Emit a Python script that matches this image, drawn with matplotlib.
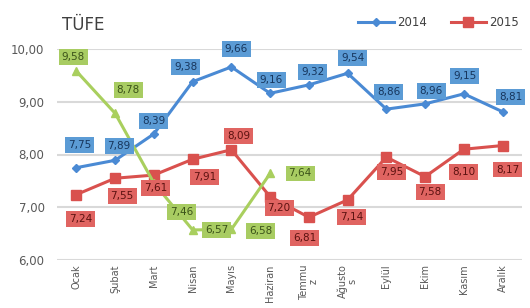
import matplotlib
matplotlib.use("Agg")
import matplotlib.pyplot as plt
from matplotlib.ticker import FuncFormatter

months = ["Ocak", "Şubat", "Mart", "Nisan", "Mayıs", "Haziran",
          "Temmu\nz", "Ağusto\ns", "Eylül", "Ekim", "Kasım", "Aralık"]
tufe_2014 = [7.75, 7.89, 8.39, 9.38, 9.66, 9.16, 9.32, 9.54, 8.86, 8.96, 9.15, 8.81]
tufe_2015 = [7.24, 7.55, 7.61, 7.91, 8.09, 7.20, 6.81, 7.14, 7.95, 7.58, 8.10, 8.17]
tufe_2016 = [9.58, 8.78, 7.46, 6.57, 6.58, 7.64]

# label offsets in pixels (dx, dy downward)
off_2014 = [(3, -23), (4, -14), (0, -13), (-7, -15), (5, -18), (1, -13),
            (4, -13), (5, -15), (2, -17), (6, -13), (1, -18), (8, -15)]
off_2015 = [(4, 24), (7, 18), (2, 13), (12, 18), (7, -14), (9, 11),
            (-4, 21), (4, 17), (5, 15), (5, 15), (0, 23), (5, 24)]
off_2016 = [(-3, -14), (13, -23), (28, 29), (24, 0), (29, 2), (30, 0)]

blue_line, blue_box, blue_txt = "#4a8ad4", "#5b9bd5", "#17365d"
red_line, red_box, red_txt = "#d9514e", "#e06461", "#5c1210"
green_line, green_box, green_txt = "#a9cf5e", "#a8cc62", "#3b5219"

fig = plt.figure(figsize=(5.30, 3.08), dpi=100)
ax = fig.add_axes([57/530, 1-260/308, 465/530, 211/308])

x = list(range(len(months)))
ax.plot(x, tufe_2014, color=blue_line, lw=2.2, marker="D", ms=4.5, label="2014", zorder=3)
ax.plot(x, tufe_2015, color=red_line, lw=2.2, marker="s", ms=6.5, label="2015", zorder=3)
ax.plot(x[:len(tufe_2016)], tufe_2016, color=green_line, lw=2.2, marker="^", ms=5.5, zorder=3)

def labels(vals, offs, box, txt):
    for i, (v, (dx, dy)) in enumerate(zip(vals, offs)):
        ax.annotate(f"{v:.2f}".replace(".", ","), (i, v), xytext=(dx, -dy),
                    textcoords="offset pixels", ha="center", va="center",
                    fontsize=7.5, color=txt, zorder=5,
                    bbox=dict(boxstyle="square,pad=0.28", fc=box, ec="none"))

labels(tufe_2014, off_2014, blue_box, blue_txt)
labels(tufe_2015, off_2015, red_box, red_txt)
labels(tufe_2016, off_2016, green_box, green_txt)

ax.set_xlim(-0.5, 11.5)
ax.set_ylim(6, 10)
ax.set_yticks([6, 7, 8, 9, 10])
ax.yaxis.set_major_formatter(FuncFormatter(lambda v, p: f"{v:.2f}".replace(".", ",")))
ax.grid(axis="y", color="#d9d9d9", lw=1.5, zorder=0)
for s in ax.spines.values():
    s.set_visible(False)
ax.tick_params(axis="both", length=0, colors="#595959")
ax.tick_params(axis="y", pad=9, labelsize=8.5)
ax.set_xticks(x)
ax.set_xticklabels(months, rotation=90, fontsize=7, color="#595959",
                   linespacing=0.9)
ax.tick_params(axis="x", pad=3)

fig.text(62/530, 1-25/308, "TÜFE", fontsize=12, color="#404040", va="center", ha="left")

leg = fig.legend(loc="center right", bbox_to_anchor=(530/530, 1-23/308), ncol=2,
                 frameon=False, fontsize=8.5, handlelength=3.0, columnspacing=2.0,
                 handletextpad=0.3, labelcolor="#404040")

fig.savefig("out.png", dpi=100)
